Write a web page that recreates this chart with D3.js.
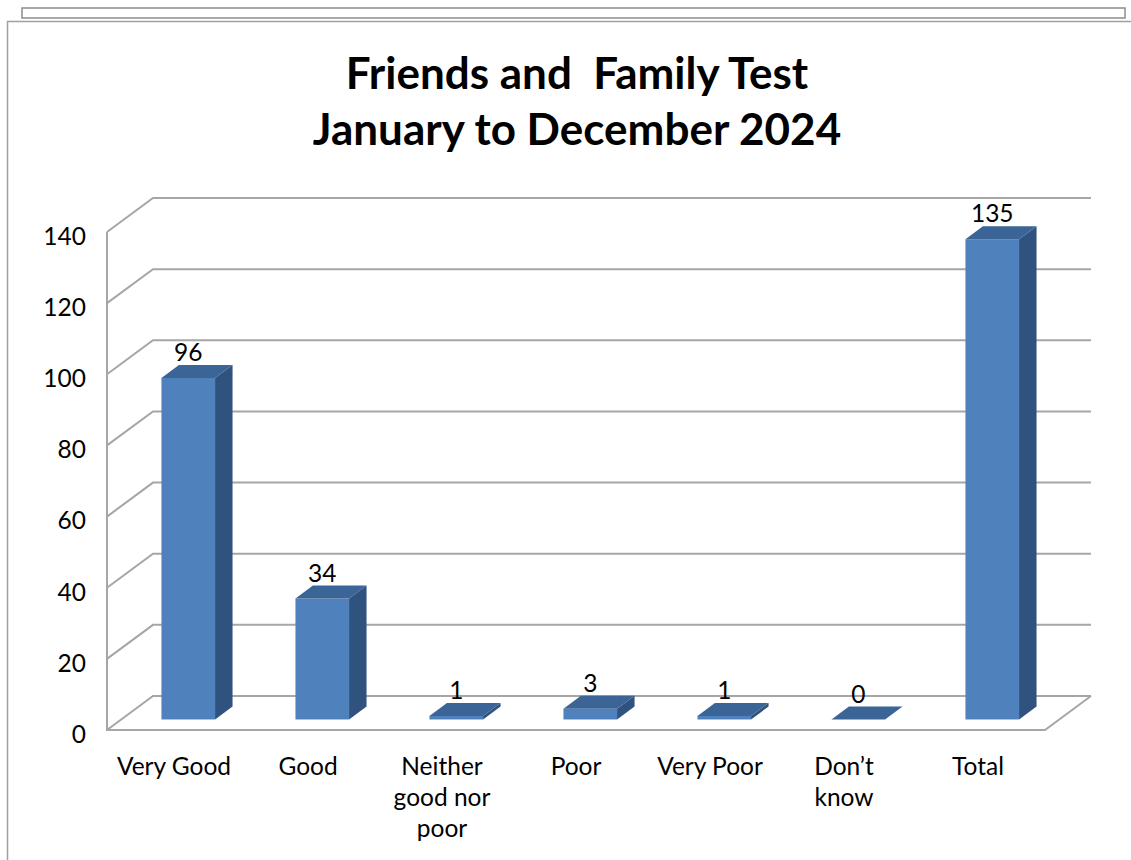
<!DOCTYPE html>
<html>
<head>
<meta charset="utf-8">
<script src="https://cdn.jsdelivr.net/npm/d3@7"></script>
<style>
	body { margin: 0; background: #fff; }
	svg { display: block; }
	text { font-family: Lato, "Open Sans", sans-serif; fill: #000; }
</style>
</head>
<body>
<div id="chart"></div>
<script>
// chart data
var categories = ['Very Good', 'Good', 'Neither good nor poor', 'Poor', 'Very Poor', 'Don\u2019t know', 'Total'];
var category_lines = [['Very Good'], ['Good'], ['Neither', 'good nor', 'poor'], ['Poor'], ['Very Poor'], ['Don\u2019t', 'know'], ['Total']];
var values = [96, 34, 1, 3, 1, 0, 135];
var y_ticks = [0, 20, 40, 60, 80, 100, 120, 140];
var title_lines = ['Friends and  Family Test', 'January to December 2024'];

var settings = {
	width: 1131,
	height: 860,
	front_left: 107,
	front_right: 1045,
	depth_x: 46,   //offset from front plane to back wall
	depth_y: -34,
	bar_z0: 0.31,  //bar front, as share of the depth
	bar_z1: 0.69,
	label_size: '24.5px',
	grid_colour: '#a6a6a6',
	front_colour: '#4f81bd',
	top_colour: '#3b6497',
	side_colour: '#30527e'
}

var svg = d3.select('#chart')
	.append('svg')
	.attr('width', settings.width)
	.attr('height', settings.height);

// outer frames
svg.append('rect')
	.attr('x', 22).attr('y', 8)
	.attr('width', 1103).attr('height', 10)
	.attr('fill', 'none')
	.attr('stroke', '#8c8c8c')
	.attr('stroke-width', 1.5);
svg.append('path')
	.attr('d', 'M7.5,860 L7.5,21.5 L1131,21.5')
	.attr('fill', 'none')
	.attr('stroke', '#a0a0a0')
	.attr('stroke-width', 1.5);

var x = d3.scaleBand()
	.domain(categories)
	.range([settings.front_left, settings.front_right])
	.paddingInner(0.6)
	.paddingOuter(0.3);

var y = d3.scaleLinear()
	.domain([0, 140])
	.range([730, 232]);

var dx = settings.depth_x, dy = settings.depth_y;

// walls and gridlines
var grid = svg.append('g')
	.attr('fill', 'none')
	.attr('stroke', settings.grid_colour)
	.attr('stroke-width', 2);

grid.selectAll('.gridline')
	.data(y_ticks)
	.enter()
	.append('path')
	.attr('class', 'gridline')
	.attr('d', function(v){
		var p = d3.path();
		p.moveTo(settings.front_left, y(v));
		p.lineTo(settings.front_left + dx, y(v) + dy);
		p.lineTo(settings.front_right + dx, y(v) + dy);
		return p.toString();
	});

grid.append('path')
	.attr('d', 'M' + settings.front_left + ',' + y(140) +
		' L' + settings.front_left + ',' + y(0) +
		' L' + settings.front_right + ',' + y(0) +
		' L' + (settings.front_right + dx) + ',' + (y(0) + dy));

// y axis labels
svg.append('g')
	.selectAll('text')
	.data(y_ticks)
	.enter()
	.append('text')
	.attr('x', 86)
	.attr('y', function(v){ return y(v) + 4; })
	.attr('dy', '0.36em')
	.attr('text-anchor', 'end')
	.style('font-size', settings.label_size)
	.text(function(v){ return v; });

// bars
var z0x = settings.bar_z0 * dx, z0y = settings.bar_z0 * dy;
var bdx = (settings.bar_z1 - settings.bar_z0) * dx;
var bdy = (settings.bar_z1 - settings.bar_z0) * dy;
var bw = x.bandwidth();

var bars = svg.append('g')
	.selectAll('.bar')
	.data(values)
	.enter()
	.append('g')
	.attr('class', 'bar');

function bar_box(d, i){
	var x0 = x(categories[i]) + z0x;
	return { x0: x0, x1: x0 + bw, top: y(d) + z0y, base: y(0) + z0y };
}

bars.append('rect')
	.attr('x', function(d, i){ return bar_box(d, i).x0; })
	.attr('y', function(d, i){ return bar_box(d, i).top; })
	.attr('width', bw)
	.attr('height', function(d, i){ var b = bar_box(d, i); return b.base - b.top; })
	.attr('fill', settings.front_colour);

bars.append('path')
	.attr('fill', settings.side_colour)
	.attr('d', function(d, i){
		var b = bar_box(d, i);
		return 'M' + b.x1 + ',' + b.top + ' L' + (b.x1 + bdx) + ',' + (b.top + bdy) +
			' L' + (b.x1 + bdx) + ',' + (b.base + bdy) + ' L' + b.x1 + ',' + b.base + 'Z';
	});

bars.append('path')
	.attr('fill', settings.top_colour)
	.attr('d', function(d, i){
		var b = bar_box(d, i);
		return 'M' + b.x0 + ',' + b.top + ' L' + (b.x0 + bdx) + ',' + (b.top + bdy) +
			' L' + (b.x1 + bdx) + ',' + (b.top + bdy) + ' L' + b.x1 + ',' + b.top + 'Z';
	});

// value labels
bars.append('text')
	.attr('x', function(d, i){ return bar_box(d, i).x0 + bw / 2; })
	.attr('y', function(d, i){ return bar_box(d, i).top + bdy - 4; })
	.attr('text-anchor', 'middle')
	.style('font-size', settings.label_size)
	.text(function(d){ return d; });

// category labels, centred on the front plane
var cat = svg.append('g')
	.selectAll('text')
	.data(category_lines)
	.enter()
	.append('text')
	.attr('text-anchor', 'middle')
	.style('font-size', settings.label_size)
	.attr('transform', function(d, i){
		return 'translate(' + (x(categories[i]) + bw / 2) + ',775)';
	});

cat.selectAll('tspan')
	.data(function(d){ return d; })
	.enter()
	.append('tspan')
	.attr('x', 0)
	.attr('y', function(d, k){ return k * 31; })
	.text(function(d){ return d; });

// title
svg.append('g')
	.selectAll('text')
	.data(title_lines)
	.enter()
	.append('text')
	.attr('x', 577)
	.attr('y', function(d, k){ return 89 + k * 56; })
	.attr('text-anchor', 'middle')
	.style('font-size', '44px')
	.style('font-weight', 'bold')
	.style('white-space', 'pre')
	.text(function(d){ return d; });
</script>
</body>
</html>
